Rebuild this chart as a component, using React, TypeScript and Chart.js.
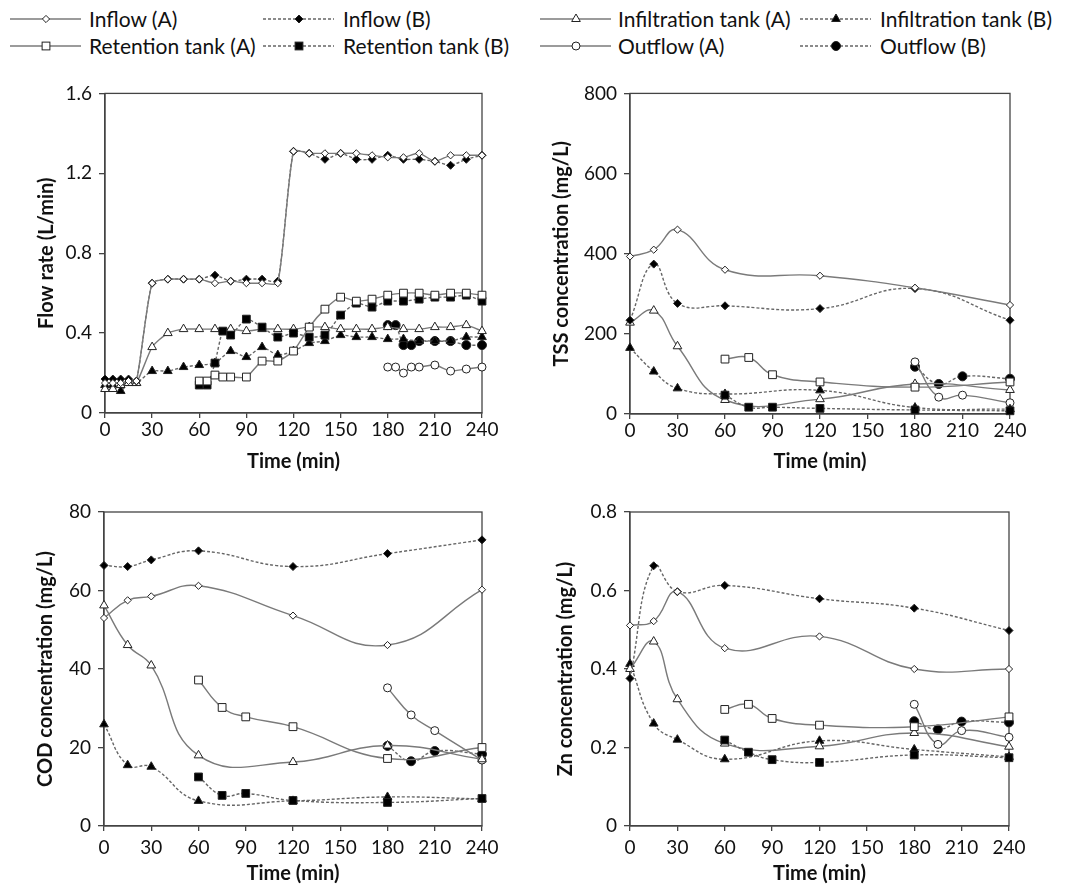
import React, { useEffect, useRef } from 'react';
import { Chart, registerables } from 'chart.js';

Chart.register(...registerables);

const FONT = 'Lato, "Open Sans", sans-serif';

// ---------- time axes ----------
const flowTimeMain = [0, 5, 10, 15, 20, 30, 40, 50, 60, 70, 80, 90, 100, 110, 120, 130, 140, 150, 160, 170, 180, 190, 200, 210, 220, 230, 240];
const flowTimeRet = [60, 65, 70, 75, 80, 90, 100, 110, 120, 130, 140, 150, 160, 170, 180, 190, 200, 210, 220, 230, 240];
const flowTimeOut = [180, 185, 190, 195, 200, 210, 220, 230, 240];
const concTimeMain = [0, 15, 30, 60, 120, 180, 240];
const concTimeRet = [60, 75, 90, 120, 180, 240];
const concTimeOut = [180, 195, 210, 240];
const timeTicks = [0, 30, 60, 90, 120, 150, 180, 210, 240];

// ---------- flow rate (L/min) ----------
const flowInflowA = [0.15, 0.15, 0.15, 0.16, 0.16, 0.65, 0.67, 0.67, 0.67, 0.65, 0.66, 0.65, 0.65, 0.65, 1.31, 1.30, 1.30, 1.30, 1.30, 1.29, 1.28, 1.28, 1.30, 1.26, 1.29, 1.29, 1.29];
const flowInflowB = [0.17, 0.17, 0.17, 0.17, 0.16, 0.65, 0.67, 0.67, 0.67, 0.69, 0.66, 0.67, 0.67, 0.66, 1.31, 1.30, 1.27, 1.30, 1.27, 1.27, 1.29, 1.27, 1.27, 1.26, 1.24, 1.27, 1.29];
const flowInfilA = [0.12, 0.12, 0.14, 0.15, 0.15, 0.33, 0.40, 0.42, 0.42, 0.42, 0.42, 0.41, 0.42, 0.42, 0.42, 0.43, 0.43, 0.42, 0.42, 0.42, 0.43, 0.42, 0.42, 0.43, 0.43, 0.44, 0.41];
const flowInfilB = [0.14, 0.14, 0.11, 0.15, 0.15, 0.21, 0.21, 0.23, 0.24, 0.25, 0.31, 0.28, 0.33, 0.29, 0.31, 0.35, 0.36, 0.39, 0.38, 0.38, 0.37, 0.37, 0.36, 0.36, 0.36, 0.38, 0.38];
const flowRetA = [0.16, 0.16, 0.19, 0.18, 0.18, 0.18, 0.26, 0.26, 0.31, 0.43, 0.52, 0.58, 0.56, 0.57, 0.59, 0.60, 0.60, 0.59, 0.60, 0.60, 0.59];
const flowRetB = [0.14, 0.14, 0.25, 0.41, 0.39, 0.47, 0.43, 0.38, 0.40, 0.38, 0.39, 0.49, 0.55, 0.53, 0.56, 0.56, 0.57, 0.58, 0.58, 0.59, 0.56];
const flowOutA = [0.23, 0.23, 0.20, 0.23, 0.23, 0.24, 0.21, 0.22, 0.23];
const flowOutB = [0.44, 0.44, 0.34, 0.34, 0.36, 0.36, 0.36, 0.34, 0.34];

// ---------- TSS (mg/L) ----------
const tssInflowA = [393, 410, 460, 360, 345, 315, 272];
const tssInflowB = [234, 374, 276, 270, 263, 313, 234];
const tssInfilA = [228, 258, 169, 35, 37, 75, 60];
const tssInfilB = [165, 106, 64, 50, 59, 16, 12];
const tssRetA = [137, 141, 98, 80, 67, 80];
const tssRetB = [47, 17, 17, 14, 10, 8];
const tssOutA = [130, 42, 47, 28];
const tssOutB = [118, 75, 94, 88];

// ---------- COD (mg/L) ----------
const codInflowA = [53.0, 57.5, 58.5, 61.2, 53.6, 46.1, 60.2];
const codInflowB = [66.4, 66.1, 67.8, 70.1, 66.1, 69.4, 72.9];
const codInfilA = [56.2, 46.1, 40.9, 18.0, 16.3, 20.5, 17.0];
const codInfilB = [25.9, 15.5, 15.1, 6.4, 6.4, 7.4, 6.9];
const codRetA = [37.2, 30.2, 27.8, 25.3, 17.2, 20.0];
const codRetB = [12.5, 7.8, 8.3, 6.5, 6.0, 7.0];
const codOutA = [35.2, 28.3, 24.3, 16.8];
const codOutB = [20.4, 16.5, 19.1, 18.3];

// ---------- Zn (mg/L) ----------
const znInflowA = [0.511, 0.522, 0.597, 0.453, 0.483, 0.400, 0.400];
const znInflowB = [0.376, 0.663, 0.597, 0.613, 0.579, 0.555, 0.498];
const znInfilA = [0.400, 0.470, 0.323, 0.210, 0.203, 0.237, 0.202];
const znInfilB = [0.413, 0.261, 0.220, 0.170, 0.217, 0.195, 0.176];
const znRetA = [0.297, 0.310, 0.274, 0.257, 0.253, 0.278];
const znRetB = [0.219, 0.188, 0.169, 0.162, 0.181, 0.174];
const znOutA = [0.310, 0.208, 0.243, 0.226];
const znOutB = [0.267, 0.246, 0.266, 0.264];

// ---------- legend / series styling ----------
const seriesLabels = ['Inflow (A)', 'Inflow (B)', 'Retention tank (A)', 'Retention tank (B)', 'Infiltration tank (A)', 'Infiltration tank (B)', 'Outflow (A)', 'Outflow (B)'];

type Kind = { shape: string; filled: boolean; dashed: boolean; r: number };
const KINDS: Kind[] = [
  { shape: 'rectRot', filled: false, dashed: false, r: 3.6 },
  { shape: 'rectRot', filled: true, dashed: true, r: 4 },
  { shape: 'rect', filled: false, dashed: false, r: 5.5 },
  { shape: 'rect', filled: true, dashed: true, r: 5.5 },
  { shape: 'triangle', filled: false, dashed: false, r: 5 },
  { shape: 'triangle', filled: true, dashed: true, r: 5 },
  { shape: 'circle', filled: false, dashed: false, r: 4 },
  { shape: 'circle', filled: true, dashed: true, r: 4.5 },
];

type Panel = {
  id: string;
  canvas: { left: number; top: number; w: number; h: number };
  padTop: number; padRight: number; yAxisW: number; xAxisH: number;
  yTitle: string; yTitlePad: number; xTitlePad: number; xTickPad: number;
  yMax: number; yStep: number; yDec: number; tension: number;
  times: number[][]; values: number[][];
};

const panels: Panel[] = [
  {
    id: 'flow', canvas: { left: 0, top: 75, w: 530, h: 410 }, padTop: 13, padRight: 48, yAxisW: 105, xAxisH: 72,
    yTitle: 'Flow rate (L/min)', yTitlePad: 35, xTitlePad: 11, xTickPad: 0, yMax: 1.6, yStep: 0.4, yDec: 1, tension: 0.2,
    times: [flowTimeMain, flowTimeMain, flowTimeRet, flowTimeRet, flowTimeMain, flowTimeMain, flowTimeOut, flowTimeOut],
    values: [flowInflowA, flowInflowB, flowRetA, flowRetB, flowInfilA, flowInfilB, flowOutA, flowOutB],
  },
  {
    id: 'tss', canvas: { left: 535, top: 75, w: 534, h: 410 }, padTop: 15, padRight: 59, yAxisW: 95, xAxisH: 71,
    yTitle: 'TSS concentration (mg/L)', yTitlePad: 15, xTitlePad: 11, xTickPad: 0, yMax: 800, yStep: 200, yDec: 0, tension: 0.45,
    times: [concTimeMain, concTimeMain, concTimeRet, concTimeRet, concTimeMain, concTimeMain, concTimeOut, concTimeOut],
    values: [tssInflowA, tssInflowB, tssRetA, tssRetB, tssInfilA, tssInfilB, tssOutA, tssOutB],
  },
  {
    id: 'cod', canvas: { left: 0, top: 490, w: 530, h: 396 }, padTop: 22, padRight: 48, yAxisW: 104, xAxisH: 60,
    yTitle: 'COD concentration (mg/L)', yTitlePad: 34, xTitlePad: 0, xTickPad: 5, yMax: 80, yStep: 20, yDec: 0, tension: 0.45,
    times: [concTimeMain, concTimeMain, concTimeRet, concTimeRet, concTimeMain, concTimeMain, concTimeOut, concTimeOut],
    values: [codInflowA, codInflowB, codRetA, codRetB, codInfilA, codInfilB, codOutA, codOutB],
  },
  {
    id: 'zn', canvas: { left: 535, top: 490, w: 534, h: 396 }, padTop: 22, padRight: 60, yAxisW: 95, xAxisH: 60,
    yTitle: 'Zn concentration (mg/L)', yTitlePad: 19, xTitlePad: 0, xTickPad: 5, yMax: 0.8, yStep: 0.2, yDec: 1, tension: 0.45,
    times: [concTimeMain, concTimeMain, concTimeRet, concTimeRet, concTimeMain, concTimeMain, concTimeOut, concTimeOut],
    values: [znInflowA, znInflowB, znRetA, znRetB, znInfilA, znInfilB, znOutA, znOutB],
  },
];

const AXIS = '#444';
const TEXT = '#111';

const framePlugin = {
  id: 'frameBox',
  beforeDatasetsDraw(chart: any) {
    const { ctx, chartArea } = chart;
    const { left, top, right, bottom } = chartArea;
    ctx.save();
    ctx.strokeStyle = AXIS;
    ctx.lineWidth = 1.3;
    ctx.strokeRect(left, top, right - left, bottom - top);
    ctx.restore();
  },
};

function buildConfig(p: Panel): any {
  const datasets = seriesLabels.map((label, i) => {
    const k = KINDS[i];
    const t = p.times[i];
    const v = p.values[i];
    return {
      label,
      data: t.map((x, j) => ({ x, y: v[j] })),
      borderColor: k.dashed ? '#666' : '#7a7a7a',
      borderWidth: 1.4,
      borderDash: k.dashed ? [3, 2] : [],
      pointStyle: k.shape,
      pointRadius: k.r,
      pointHoverRadius: k.r,
      pointBackgroundColor: k.filled ? '#000' : '#fff',
      pointBorderColor: '#222',
      pointBorderWidth: 1,
      tension: p.tension,
      fill: false,
      clip: false,
    };
  });
  return {
    type: 'line',
    data: { datasets },
    options: {
      responsive: false,
      animation: false,
      events: [],
      layout: { padding: { top: p.padTop, right: p.padRight, left: 0, bottom: 0 } },
      plugins: { legend: { display: false }, tooltip: { enabled: false } },
      scales: {
        x: {
          type: 'linear',
          min: 0,
          max: 240,
          afterBuildTicks: (s: any) => { s.ticks = timeTicks.map((value) => ({ value })); },
          afterFit: (s: any) => { s.height = p.xAxisH; },
          ticks: { color: TEXT, font: { family: FONT, size: 19 }, padding: p.xTickPad, maxRotation: 0, autoSkip: false },
          grid: { drawOnChartArea: false, drawTicks: true, tickLength: 5, color: AXIS, lineWidth: 1.3 },
          border: { display: true, color: AXIS, width: 1.3 },
          title: { display: true, text: 'Time (min)', color: TEXT, font: { family: FONT, size: 20, weight: 'bold' }, padding: { top: 0, bottom: p.xTitlePad } },
        },
        y: {
          type: 'linear',
          min: 0,
          max: p.yMax,
          afterFit: (s: any) => { s.width = p.yAxisW; },
          ticks: {
            stepSize: p.yStep,
            color: TEXT,
            font: { family: FONT, size: 19 },
            padding: 7,
            callback: (val: any) => (Math.abs(val) < 1e-9 ? '0' : Number(val).toFixed(p.yDec)),
          },
          grid: { drawOnChartArea: false, drawTicks: true, tickLength: 6, color: AXIS, lineWidth: 1.3 },
          border: { display: true, color: AXIS, width: 1.3 },
          title: { display: true, text: p.yTitle, color: TEXT, font: { family: FONT, size: 20, weight: 'bold' }, padding: { top: p.yTitlePad, bottom: 0 } },
        },
      },
    },
    plugins: [framePlugin],
  };
}

function ChartPanel({ p }: { p: Panel }) {
  const ref = useRef<HTMLCanvasElement | null>(null);
  useEffect(() => {
    if (!ref.current) return;
    const chart = new Chart(ref.current, buildConfig(p));
    return () => chart.destroy();
  }, [p]);
  return (
    <canvas
      ref={ref}
      width={p.canvas.w}
      height={p.canvas.h}
      style={{ position: 'absolute', left: p.canvas.left, top: p.canvas.top, width: p.canvas.w, height: p.canvas.h }}
    />
  );
}

function Marker({ k, cx, cy }: { k: Kind; cx: number; cy: number }) {
  const fill = k.filled ? '#000' : '#fff';
  const stroke = '#222';
  if (k.shape === 'circle') return <circle cx={cx} cy={cy} r={k.r} fill={fill} stroke={stroke} strokeWidth={1} />;
  if (k.shape === 'rect') {
    const s = k.r * Math.SQRT1_2;
    return <rect x={cx - s} y={cy - s} width={2 * s} height={2 * s} fill={fill} stroke={stroke} strokeWidth={1} />;
  }
  if (k.shape === 'rectRot') {
    const r = k.r;
    return <polygon points={`${cx},${cy - r} ${cx + r},${cy} ${cx},${cy + r} ${cx - r},${cy}`} fill={fill} stroke={stroke} strokeWidth={1} />;
  }
  const r = k.r;
  const pts = [0, 1, 2].map((i) => {
    const a = (i * 2 * Math.PI) / 3;
    return `${cx + Math.sin(a) * r},${cy - Math.cos(a) * r}`;
  }).join(' ');
  return <polygon points={pts} fill={fill} stroke={stroke} strokeWidth={1} />;
}

const legendLineLeft = [10, 263, 540, 800];
const legendTextLeft = [89, 343, 618, 880];
const legendRowY = [19, 46];
const legendSlots = [
  { s: 0, col: 0, row: 0 }, { s: 1, col: 1, row: 0 },
  { s: 2, col: 0, row: 1 }, { s: 3, col: 1, row: 1 },
  { s: 4, col: 2, row: 0 }, { s: 5, col: 3, row: 0 },
  { s: 6, col: 2, row: 1 }, { s: 7, col: 3, row: 1 },
];

function Legend() {
  return (
    <>
      {legendSlots.map(({ s, col, row }) => {
        const k = KINDS[s];
        const y = legendRowY[row];
        return (
          <React.Fragment key={s}>
            <svg width={72} height={16} style={{ position: 'absolute', left: legendLineLeft[col], top: y - 8 }}>
              <line x1={0} y1={8} x2={71} y2={8} stroke={k.dashed ? '#666' : '#7a7a7a'} strokeWidth={1.4} strokeDasharray={k.dashed ? '3 2' : undefined} />
              <Marker k={k} cx={36} cy={8} />
            </svg>
            <span style={{ position: 'absolute', left: legendTextLeft[col], top: y - 13, fontFamily: FONT, fontSize: 21, lineHeight: '26px', color: TEXT, whiteSpace: 'nowrap' }}>
              {seriesLabels[s]}
            </span>
          </React.Fragment>
        );
      })}
    </>
  );
}

export default function App() {
  return (
    <div style={{ position: 'absolute', left: 0, top: 0, width: 1069, height: 886, background: '#fff', overflow: 'hidden' }}>
      <Legend />
      {panels.map((p) => <ChartPanel key={p.id} p={p} />)}
    </div>
  );
}
